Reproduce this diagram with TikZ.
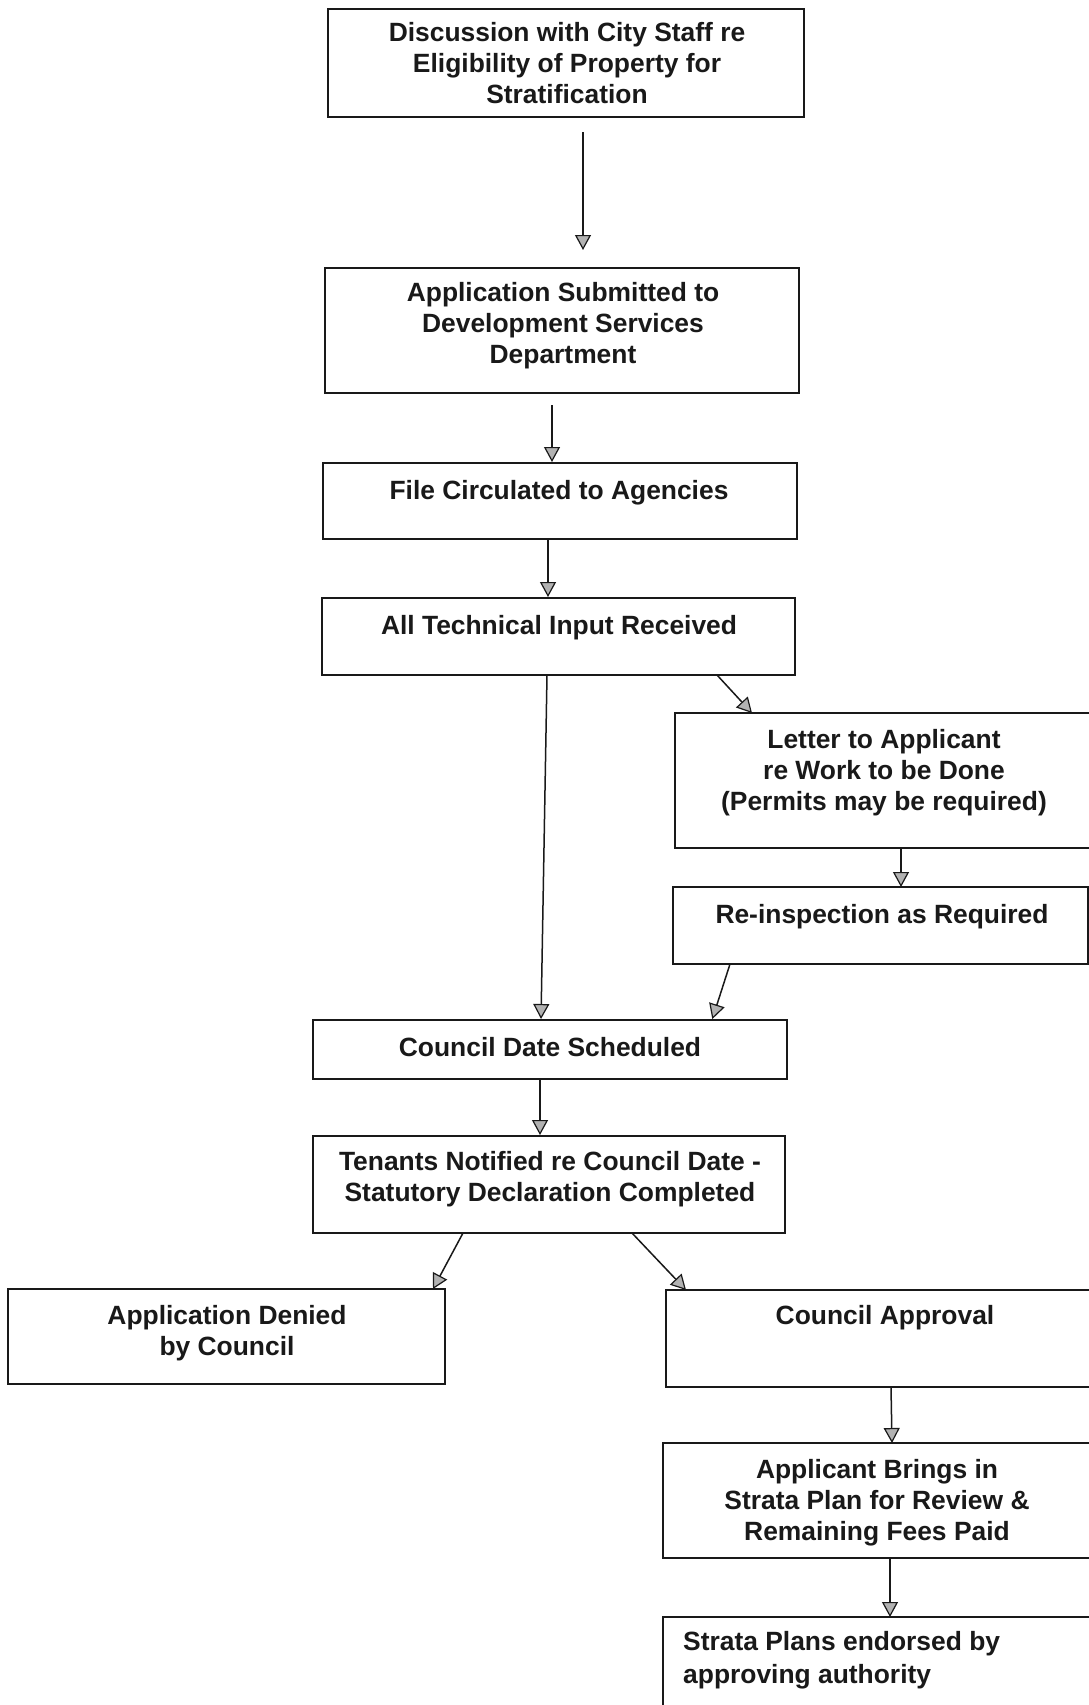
\documentclass[tikz,border=0pt]{standalone}
\usepackage{fontspec}
\setmainfont{Liberation Sans}
\usetikzlibrary{arrows.meta,calc}
\begin{document}
\begin{tikzpicture}[x=1pt,y=-1pt,
  box/.style={draw=black!90, line width=1.8pt, inner sep=0pt, outer sep=0pt, rectangle},
  txt/.style={align=center, inner sep=0pt, text=black!90, font=\fontsize{26.4}{31}\selectfont\bfseries},
  arr/.style={draw=black!90, line width=1.5pt, -{Triangle[width=16pt,length=15pt,fill=black!30,line width=1.2pt]}}
]
\useasboundingbox (0,0) rectangle (1089,1705);
\clip (0,0) rectangle (1089,1705);
\fill[white] (0,0) rectangle (1089,1705);
% boxes: center (x,y), width, height
\node[box, minimum width=476pt, minimum height=108pt] (b1) at (566,63) {};
\node[box, minimum width=474pt, minimum height=125pt] (b2) at (562,330.5) {};
\node[box, minimum width=474pt, minimum height=76pt] (b3) at (560,501) {};
\node[box, minimum width=473pt, minimum height=77pt] (b4) at (558.5,636.5) {};
\node[box, minimum width=425pt, minimum height=135pt] (b5) at (887.5,780.5) {};
\node[box, minimum width=415pt, minimum height=77pt] (b6) at (880.5,925.5) {};
\node[box, minimum width=474pt, minimum height=59pt] (b7) at (550,1049.5) {};
\node[box, minimum width=472pt, minimum height=97pt] (b8) at (549,1184.5) {};
\node[box, minimum width=437pt, minimum height=95pt] (b9) at (226.5,1336.5) {};
\node[box, minimum width=435pt, minimum height=97pt] (b10) at (883.5,1338.5) {};
\node[box, minimum width=437pt, minimum height=115pt] (b11) at (881.5,1500.5) {};
\node[box, minimum width=437pt, minimum height=103pt] (b12) at (881.5,1668.5) {};
% texts
\node[txt] (t1) at (567,63) {Discussion with City Staff re\\Eligibility of Property for\\Stratification};
\node[txt] (t2) at (563,326) {Application Submitted to\\Development Services\\Department};
\node[txt] (t3) at (559,493) {File Circulated to Agencies};
\node[txt] (t4) at (559,628) {All Technical Input Received};
\node[txt] (t5) at (884,773) {Letter to Applicant\\re Work to be Done\\(Permits may be required)};
\node[txt] (t6) at (882,917) {Re-inspection as Required};
\node[txt] (t7) at (550,1047) {Council Date Scheduled};
\node[txt] (t8) at (550,1179) {Tenants Notified re Council Date -\\Statutory Declaration Completed};
\node[txt] (t9) at (227,1333) {Application Denied\\by Council};
\node[txt] (t10) at (885,1318) {Council Approval};
\node[txt] (t11) at (877,1503) {Applicant Brings in\\Strata Plan for Review \&\\Remaining Fees Paid};
\node[txt, align=left, anchor=west, font=\fontsize{26.4}{32.5}\selectfont\bfseries] (t12) at (683,1660) {Strata Plans endorsed by\\approving authority};
% connectors
\draw[arr, shorten <=15pt, shorten >=18pt] ($(b1.south west)+(255,0)$) -- ($(b2.north west)+(258,0)$);
\draw[arr, shorten <=12pt, shorten >=1pt] ($(b2.south west)+(227,0)$) -- ($(b3.north west)+(229,0)$);
\draw[arr, shorten >=1pt] ($(b3.south west)+(225,0)$) -- ($(b4.north west)+(226,0)$);
\draw[arr, shorten >=1pt] ($(b4.south west)+(225,0)$) -- ($(b7.north west)+(228,0)$);
\draw[arr] ($(b4.south west)+(395,0)$) -- ($(b5.north west)+(77,0)$);
\draw[arr] ($(b5.south west)+(226,0)$) -- ($(b6.north west)+(228,0)$);
\draw[arr, shorten >=1pt] ($(b6.south west)+(57,0)$) -- ($(b7.north west)+(399,0)$);
\draw[arr, shorten >=1pt] ($(b7.south west)+(227,0)$) -- ($(b8.north west)+(227,0)$);
\draw[arr] ($(b8.south west)+(150,0)$) -- ($(b9.north west)+(425,0)$);
\draw[arr] ($(b8.south west)+(319,0)$) -- ($(b10.north west)+(20,0)$);
\draw[arr] ($(b10.south west)+(225,0)$) -- ($(b11.north west)+(229,0)$);
\draw[arr] ($(b11.south west)+(227,0)$) -- ($(b12.north west)+(227,0)$);
\end{tikzpicture}
\end{document}
